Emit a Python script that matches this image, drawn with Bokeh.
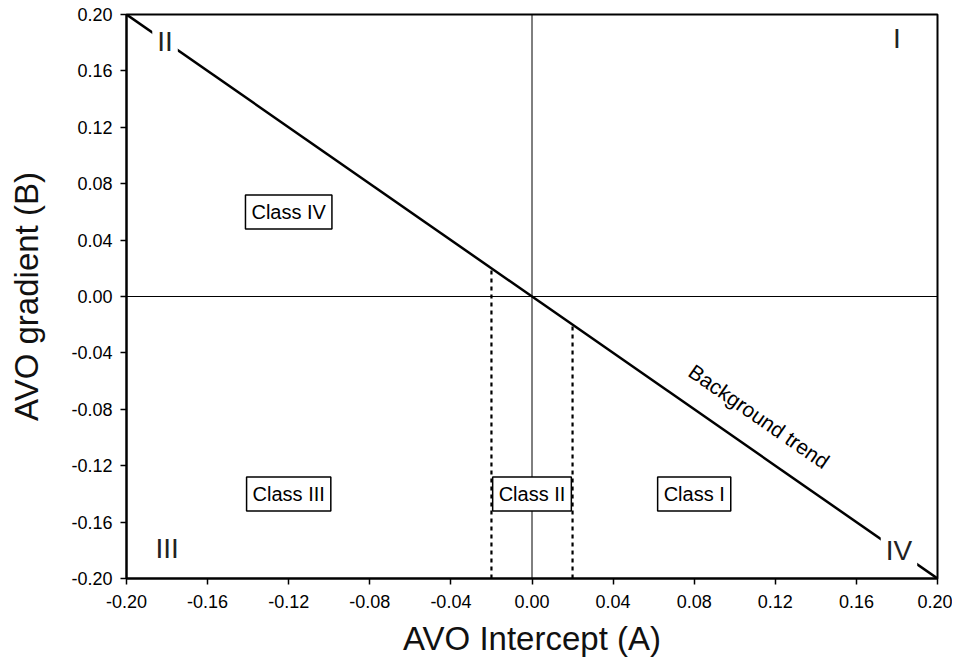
import math
from bokeh.plotting import figure
from bokeh.models import Range1d, FixedTicker, NumeralTickFormatter, Span
from bokeh.core.properties import value
from bokeh.embed import file_html
from bokeh.resources import INLINE

# ---- data ----
ticks = [-0.20, -0.16, -0.12, -0.08, -0.04, 0.00, 0.04, 0.08, 0.12, 0.16, 0.20]
trend_x = [-0.20, 0.20]
trend_y = [0.20, -0.20]
boundary_x = [-0.02, 0.02]
boundary_top = [0.02, -0.02]
boundary_bottom = [-0.20, -0.20]
class_names = ["Class IV", "Class III", "Class II", "Class I"]
class_x = [-0.12, -0.12, 0.0, 0.08]
class_y = [0.06, -0.14, -0.14, -0.14]
quad_names = ["I", "II", "III", "IV"]
quad_x = [0.18, -0.181, -0.18, 0.181]
quad_y = [0.183, 0.181, -0.179, -0.18]
trend_label = ["Background trend"]
trend_label_x = [0.112]
trend_label_y = [-0.085]

FONT = "Liberation Sans"

p = figure(width=952, height=665, output_backend="svg", toolbar_location=None,
           x_range=Range1d(-0.2, 0.2), y_range=Range1d(-0.2, 0.2),
           min_border_left=126, min_border_right=15, min_border_top=14,
           min_border_bottom=87)

p.xgrid.visible = False
p.ygrid.visible = False
p.outline_line_color = "black"
p.outline_line_width = 2
p.background_fill_color = "white"
p.border_fill_color = "white"

for ax in (p.xaxis[0], p.yaxis[0]):
    ax.ticker = FixedTicker(ticks=ticks)
    ax.formatter = NumeralTickFormatter(format="0.00")
    ax.axis_line_color = "black"
    ax.axis_line_width = 2
    ax.major_tick_line_color = "black"
    ax.major_tick_line_width = 1.5
    ax.major_tick_out = 6
    ax.major_tick_in = 0
    ax.minor_tick_line_color = None
    ax.major_label_text_font = FONT
    ax.major_label_text_font_size = "18px"
    ax.major_label_text_color = "black"
    ax.axis_label_text_font = FONT
    ax.axis_label_text_font_size = "33px"
    ax.axis_label_text_font_style = "normal"
    ax.axis_label_text_color = "#111111"

p.xaxis.axis_label = "AVO Intercept (A)"
p.yaxis.axis_label = "AVO gradient (B)"
p.xaxis.major_label_standoff = 10
p.yaxis.major_label_standoff = 8
p.xaxis.axis_label_standoff = 9
p.yaxis.axis_label_standoff = 23

# zero lines
p.add_layout(Span(location=0, dimension="width", line_color="black", line_width=1, level="underlay"))
p.add_layout(Span(location=0, dimension="height", line_color="black", line_width=1, level="underlay"))

# class boundaries (dotted)
p.segment(x0=boundary_x, y0=boundary_bottom, x1=boundary_x, y1=boundary_top,
          line_color="black", line_width=2.2, line_dash="4 4")

# background trend
p.line(trend_x, trend_y, line_color="black", line_width=2.5)

p.text(x=trend_label_x, y=trend_label_y, text=trend_label, angle=-math.atan(564 / 811),
       text_font=value(FONT), text_font_size="21px", text_align="center",
       text_baseline="middle", text_color="black")

# class boxes
p.text(x=class_x, y=class_y, text=class_names, text_font=value(FONT),
       text_font_size="20px", text_align="center", text_baseline="middle",
       text_color="black", background_fill_color="white",
       border_line_color="black", border_line_width=1.5, padding=6)

# quadrant numerals
p.text(x=quad_x, y=quad_y, text=quad_names, text_font=value(FONT),
       text_font_size="28px", text_align="center", text_baseline="middle",
       text_color="#222222", background_fill_color="white", padding=5)

open("out.html", "w").write(file_html(p, INLINE))
